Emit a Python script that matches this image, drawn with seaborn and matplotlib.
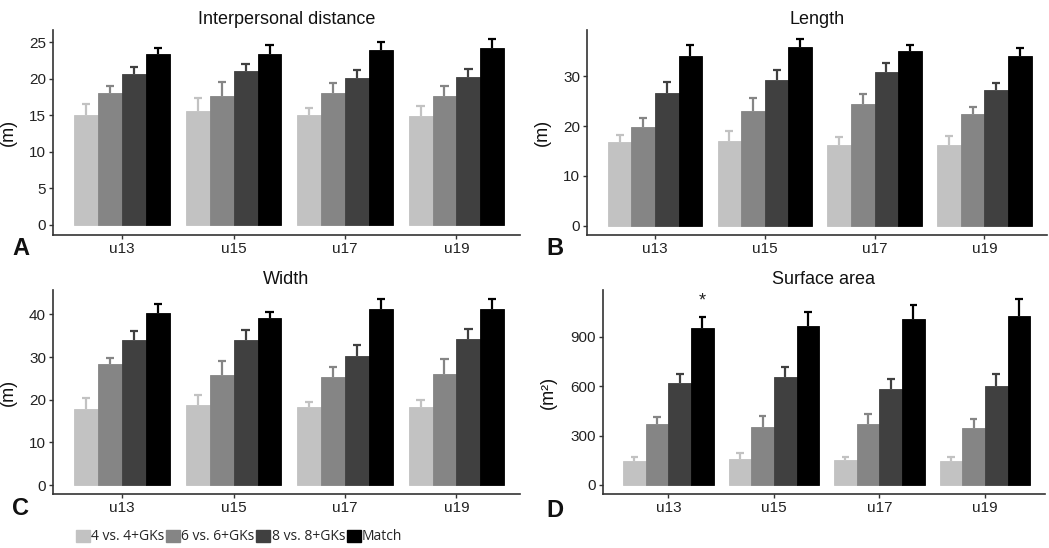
import numpy as np
import pandas as pd
import matplotlib
matplotlib.use("Agg")
import matplotlib.pyplot as plt
import seaborn as sns
from matplotlib.patches import Patch

# Data: mean and upper error per group x condition
groups = ["u13", "u15", "u17", "u19"]
conditions = ["4 vs. 4+GKs", "6 vs. 6+GKs", "8 vs. 8+GKs", "Match"]
colors = ["#c2c2c2", "#858585", "#404040", "#000000"]

# rows = groups, cols = conditions
dist_mean = [[15.1, 18.1, 20.7, 23.4],
             [15.6, 17.7, 21.1, 23.4],
             [15.0, 18.1, 20.1, 24.0],
             [14.9, 17.7, 20.3, 24.2]]
dist_err = [[1.4, 0.9, 1.0, 0.8],
            [1.8, 1.9, 1.0, 1.3],
            [1.0, 1.4, 1.1, 1.1],
            [1.4, 1.4, 1.1, 1.2]]

length_mean = [[16.7, 19.8, 26.6, 34.0],
               [16.9, 23.0, 29.3, 35.8],
               [16.1, 24.4, 30.9, 35.1],
               [16.1, 22.4, 27.3, 34.1]]
length_err = [[1.5, 1.8, 2.3, 2.2],
              [2.1, 2.7, 2.0, 1.6],
              [1.6, 2.0, 1.8, 1.1],
              [1.8, 1.4, 1.4, 1.5]]

width_mean = [[17.8, 28.3, 34.1, 40.2],
              [18.7, 25.7, 34.1, 39.1],
              [18.2, 25.4, 30.2, 41.2],
              [18.2, 26.1, 34.3, 41.2]]
width_err = [[2.6, 1.5, 1.9, 2.2],
             [2.5, 3.4, 2.2, 1.4],
             [1.3, 2.2, 2.6, 2.3],
             [1.8, 3.4, 2.2, 2.3]]

area_mean = [[146, 370, 621, 951],
             [158, 350, 657, 967],
             [150, 372, 585, 1009],
             [144, 348, 599, 1025]]
area_err = [[22, 43, 55, 70],
            [36, 67, 57, 83],
            [20, 59, 60, 85],
            [26, 52, 77, 104]]

panels = [
    ("Interpersonal distance", "(m)", "A", dist_mean, dist_err, (-1.37, 26.7), [0, 5, 10, 15, 20, 25]),
    ("Length", "(m)", "B", length_mean, length_err, (-1.9, 39.3), [0, 10, 20, 30]),
    ("Width", "(m)", "C", width_mean, width_err, (-2.1, 45.7), [0, 10, 20, 30, 40]),
    ("Surface area", "(m²)", "D", area_mean, area_err, (-55, 1183), [0, 300, 600, 900]),
]

W, H = 1049, 548
# axes boxes in pixels: left, top, right, bottom
boxes = [(53, 30, 520, 235), (587, 30, 1047, 235),
         (53, 290, 520, 494), (603, 290, 1045, 494)]
letter_pos = [(12, 255), (546, 255), (12, 515), (546, 517)]

sns.set_style("white")
plt.rcParams['font.family'] = ['Liberation Sans', 'DejaVu Sans']

fig = plt.figure(figsize=(W / 100, H / 100), dpi=100)

for (title, ylab, letter, mean, err, ylim, yticks), box, lp in zip(panels, boxes, letter_pos):
    l, t, r, b = box
    ax = fig.add_axes([l / W, 1 - b / H, (r - l) / W, (b - t) / H])
    df = pd.DataFrame([
        {"group": g, "cond": c, "value": mean[i][j], "err": err[i][j]}
        for i, g in enumerate(groups) for j, c in enumerate(conditions)
    ])
    sns.barplot(data=df, x="group", y="value", hue="cond", hue_order=conditions,
                order=groups, palette=colors, width=0.86, gap=0, errorbar=None,
                legend=False, ax=ax, saturation=1)

    # error bars (upper half only), coloured like their bars
    bars = sorted(ax.patches, key=lambda p: p.get_x())
    for k, p in enumerate(bars):
        row = df.iloc[k]
        xc = p.get_x() + p.get_width() / 2
        cw = p.get_width() * 0.17
        col = colors[conditions.index(row["cond"])]
        top = row["value"] + row["err"]
        ax.vlines(xc, row["value"], top, colors=col, linewidth=1.6, zorder=1)
        ax.hlines(top, xc - cw, xc + cw, colors=col, linewidth=1.6, zorder=1)
        p.set_edgecolor(col)
        p.set_linewidth(0.6)
        p.set_zorder(2)
        if letter == "D" and k == 3:
            ax.text(xc, top + 45, "*", ha="center", va="bottom",
                    fontsize=13, color="#222222")

    ax.set_xlim(-0.62, 3.57)
    ax.set_ylim(*ylim)
    ax.set_yticks(yticks)
    ax.set_xlabel("")
    ax.set_ylabel(ylab, fontsize=13, color="#111111")
    ax.yaxis.set_label_coords(-0.078 if letter != "D" else -0.104, 0.5)
    ax.set_title(title, fontsize=13, pad=4, color="#111111")
    sns.despine(ax=ax)
    for s in ["left", "bottom"]:
        ax.spines[s].set_color("#333333")
        ax.spines[s].set_linewidth(1.2)
    ax.tick_params(axis="both", length=3, width=1, color="#333333",
                   labelsize=11, labelcolor="#222222", pad=2, left=True, bottom=True)

    fig.text(lp[0] / W, 1 - lp[1] / H, letter, fontsize=17, fontweight="bold",
             ha="left", va="baseline", color="#111111")

handles = [Patch(facecolor=c, edgecolor=c) for c in colors]
fig.legend(handles, conditions, loc="center left", bbox_to_anchor=(69 / W, 1 - 537 / H),
           ncol=4, frameon=False, handlelength=1.0, handleheight=1.0,
           handletextpad=0.1, columnspacing=0.12, borderpad=0,
           prop={"family": "Open Sans", "size": 10})

fig.savefig("out.png", dpi=100, facecolor="white")
